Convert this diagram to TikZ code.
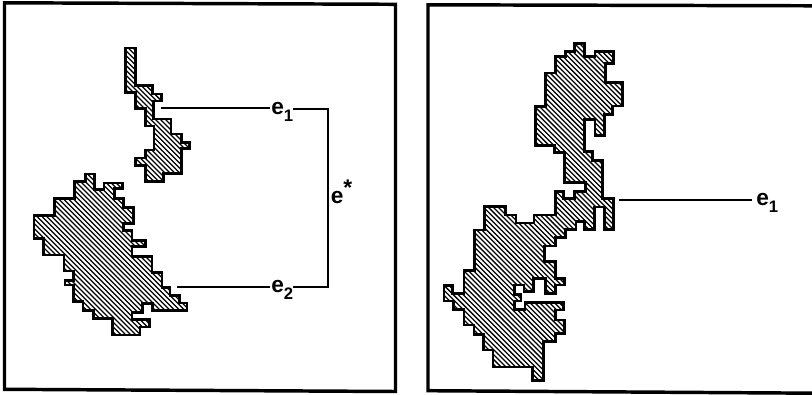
\documentclass[tikz,border=0pt]{standalone}
\usepackage{fontspec}
\setmainfont{Liberation Sans}
\tikzset{
  frameline/.style={line width=2.6pt,line join=miter},
  innerline/.style={line width=3.2pt,line join=miter},
  outline/.style={line width=0.9pt,line join=miter},
  hatchline/.style={line width=0.95pt,black},
  leader/.style={line width=1.2pt},
  label/.style={inner sep=0pt,font=\fontsize{17}{17}\bfseries}
}
\newcommand{\blobshape}[1]{%
  \begin{scope}
    \clip plot coordinates {#1} -- cycle;
    \foreach \c in {-400,-395.1,...,800} {\draw[hatchline] (\c,0) -- ({\c+400},400);}
    \draw[innerline] plot coordinates {#1} -- cycle;
  \end{scope}
  \draw[outline] plot coordinates {#1} -- cycle;
}
\newcommand{\subl}[1]{\raisebox{-0.3em}{\fontsize{12.5}{12.5}\selectfont\bfseries #1}}
\begin{document}
\begin{tikzpicture}[x=0.75pt,y=-0.75pt]
\useasboundingbox (0,0) rectangle (812,395);
\fill[white] (0,0) rectangle (812,395);
% frames
\draw[frameline] (4.5,2.8) -- (395.5,4.3) -- (395.5,391.5) -- (4.5,389.3) -- cycle;
\draw[frameline] (815,5.8) -- (428,4.8) -- (428,390.7) -- (815,393.2);
% left blobs
\blobshape{(125,47.3)(136,47.3)(136,85)(153.3,85)(153.3,93.3)(162.3,93.3)(162.3,101.7)(154,101.7)(154,118.3)(171.7,118.3)(171.7,133.3)(182.3,133.3)(182.3,141.7)(190,141.7)(190,149.3)(182.3,149.3)(182.3,174)(164,174)(164,182.3)(145,182.3)(145,166)(135,166)(135,157.3)(145,157.3)(145,149.3)(153.3,149.3)(153.3,126.7)(145,126.7)(145,109.3)(135,109.3)(135,93.3)(125,93.3)}
\blobshape{(85,173.3)(95,173.3)(95,189)(103.3,189)(103.3,182.3)(123.3,182.3)(123.3,189)(115,189)(115,197.7)(124.3,197.7)(124.3,206.7)(134,206.7)(134,224.3)(124.3,224.3)(124.3,230)(132.7,230)(132.7,240)(146,240)(146,247.3)(132.7,247.3)(132.7,255.7)(152.7,255.7)(152.7,271.7)(162.7,271.7)(162.7,286.7)(170.7,286.7)(170.7,295)(180,295)(180,302.3)(187.7,302.3)(187.7,311)(151.7,311)(151.7,304.3)(143.3,304.3)(143.3,313.3)(132.7,313.3)(132.7,319)(150,319)(150,327.7)(140.7,327.7)(140.7,335.7)(111.7,335.7)(111.7,319)(92.7,319)(92.7,311)(82.3,311)(82.3,302.3)(72.7,302.3)(72.7,285.7)(64.3,285.7)(64.3,280)(72.7,280)(72.7,271.7)(63.3,271.7)(63.3,255.7)(42.7,255.7)(42.7,239)(33.3,239)(33.3,215)(54,215)(54,197.7)(74,197.7)(74,181)(85,181)}
% right blob
\blobshape{(574,42.7)(585,42.7)(585,56)(594.3,56)(594.3,50.7)(614.3,50.7)(614.3,64.3)(606,64.3)(606,81.7)(623.3,81.7)(623.3,106.7)(613.3,106.7)(613.3,115)(605,115)(605,136)(594.3,136)(594.3,120)(585,120)(585,150.7)(593.3,150.7)(593.3,160)(603.3,160)(603.3,197.7)(614,197.7)(614,230)(604,230)(604,207.7)(595,207.7)(595,230)(584,230)(584,222.3)(576.7,222.3)(576.7,230)(566,230)(566,238.3)(556,238.3)(556,246.7)(545,246.7)(545,261)(556,261)(556,277.7)(565,277.7)(565,285.7)(556,285.7)(556,294)(545,294)(545,279)(534.3,279)(534.3,292.3)(523.3,292.3)(523.3,285.7)(515,285.7)(515,294)(521.7,294)(521.7,301.7)(515,301.7)(515,309)(524.3,309)(524.3,301.7)(564.3,301.7)(564.3,310.7)(556,310.7)(556,319.3)(565,319.3)(565,334.3)(556,334.3)(556,342.3)(544.3,342.3)(544.3,381)(531.7,381)(531.7,367.7)(492.3,367.7)(492.3,350.7)(482.7,350.7)(482.7,335)(473.3,335)(473.3,325.7)(463.3,325.7)(463.3,310)(452.7,310)(452.7,301.7)(443.3,301.7)(443.3,285)(453.3,285)(453.3,292.7)(463.3,292.7)(463.3,270)(474,270)(474,229.3)(484,229.3)(484,206)(506,206)(506,214.3)(516.7,214.3)(516.7,222.3)(533.3,222.3)(533.3,214.3)(555,214.3)(555,191)(564.3,191)(564.3,197.7)(574,197.7)(574,191)(585,191)(585,183.3)(564,183.3)(564,153.3)(554,153.3)(554,146)(535,146)(535,106)(545,106)(545,72.3)(555,72.3)(555,56)(565,56)(565,50.7)(574,50.7)}
% labels
\node[label,anchor=base west] (eone) at (271,115) {e\subl{1}};
\node[label,anchor=base west] (etwo) at (271,292.5) {e\subl{2}};
\node[label,anchor=base west] (estar) at (330.5,203) {e\raisebox{0.32em}{*}};
\node[label,anchor=base west] (eright) at (756,205.5) {e\subl{1}};
% connectors
\coordinate (aone) at (160.5,108);
\coordinate (atwo) at (177,287);
\coordinate (cone) at (328,109);
\coordinate (ctwo) at (328,287);
\coordinate (aright) at (618.5,200);
\draw[leader] (aone) -- ([xshift=-1pt]eone.west |- aone);
\draw[leader] (atwo) -- ([xshift=-1pt]etwo.west |- atwo);
\draw[leader] (eone.east |- cone) -- (cone) -- (ctwo) -- (etwo.east |- ctwo);
\draw[leader] (aright) -- ([xshift=-3pt]eright.west |- aright);
\end{tikzpicture}
\end{document}
